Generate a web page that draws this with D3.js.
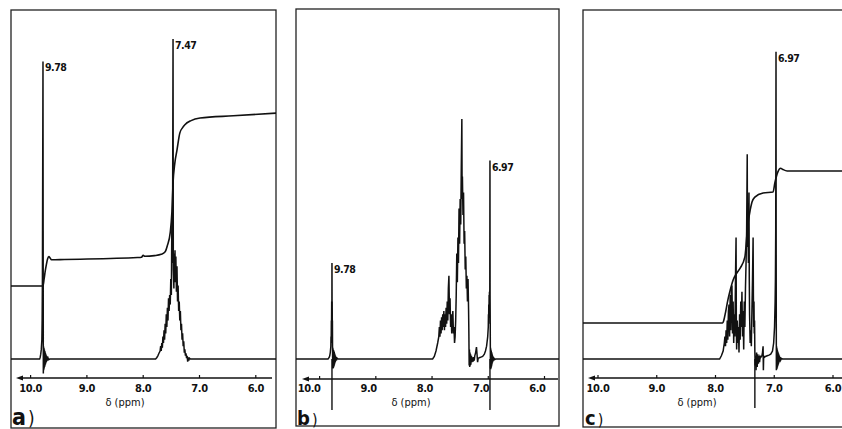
<!DOCTYPE html>
<html>
<head>
<meta charset="utf-8">
<script src="https://cdn.jsdelivr.net/npm/d3@7"></script>
<style>
  html, body { margin: 0; padding: 0; background: #fff; }
  svg { display: block; }
  text { font-family: "Liberation Sans Narrow", "DejaVu Sans Condensed", "Liberation Sans", sans-serif; fill: #111; }
</style>
</head>
<body>
<svg id="chart" width="842" height="429"></svg>
<script>
// axis ticks (ppm) and their labels
var ppmTicks = [10, 9, 8, 7, 6];
var tickLabels = ["10.0", "9.0", "8.0", "7.0", "6.0"];
var axisTitle = "δ (ppm)";

// spectrum a: [ppm, intensity]
var spectrumA = [
  [10.40,0],[9.84,0],[9.83,0.5],[9.82,1.5],[9.81,3],[9.80,6],[9.795,12],[9.79,25],[9.785,60],[9.78,93],
  [9.777,40],[9.774,-4.5],[9.771,4],[9.767,-3.5],[9.763,3.5],[9.759,-3],[9.755,3],[9.751,-2.5],[9.747,2.5],
  [9.743,-2],[9.739,2],[9.735,-1.6],[9.731,1.6],[9.727,-1.2],[9.723,1.2],[9.719,-0.9],[9.715,0.9],[9.71,-0.6],
  [9.705,0.6],[9.70,-0.4],[9.69,0.3],[9.68,-0.2],[9.66,0],
  [7.78,0],[7.76,0.4],[7.74,1],[7.72,1.8],[7.70,2.5],[7.69,4],[7.68,2.5],[7.67,5],[7.66,3.5],[7.65,7],[7.64,5],
  [7.63,9],[7.62,6],[7.61,11],[7.60,8],[7.59,14],[7.58,10],[7.57,16],[7.56,12],[7.55,19],[7.54,15],[7.53,20],
  [7.52,17],[7.51,25],[7.50,20],[7.49,45],[7.48,30],[7.47,100],[7.465,28],[7.455,22],[7.45,33],[7.44,26],
  [7.435,34],[7.43,24],[7.42,32],[7.41,21],[7.40,29],[7.39,18],[7.38,23],[7.37,15],[7.36,18],[7.35,12],
  [7.34,15],[7.33,9],[7.32,11],[7.31,6],[7.30,8],[7.29,4],[7.28,5.5],[7.27,2],[7.26,3],[7.25,1],[7.24,1.8],
  [7.23,0.3],[7.22,1],[7.21,-0.8],[7.20,0.5],[7.19,-0.5],[7.18,0.3],[7.16,0],[5.50,0]
];

// integral a: [ppm, level]
var integralA = [
  [10.40,22.8],[9.78,22.8],[9.76,25],[9.74,27.5],[9.72,29.5],[9.70,31.2],[9.675,32],[9.655,31.6],[9.63,31],
  [9.40,31.1],[8.10,31.7],[8.03,31.8],[8.00,32.4],[7.97,32.1],[7.80,32.3],[7.68,32.7],[7.61,33.5],[7.57,35.5],
  [7.52,39.5],[7.49,46],[7.47,55],[7.44,61],[7.40,65.3],[7.35,70.6],[7.30,72.3],[7.26,73.2],[7.15,74.5],
  [6.99,75.3],[6.40,76],[5.50,77]
];

// spectrum b
var spectrumB = [
  [10.50,0],[9.85,0],[9.83,0.5],[9.82,1],[9.81,2],[9.80,4],[9.797,7],[9.794,5],[9.791,12],[9.788,9],[9.785,18],
  [9.783,13],[9.781,19],[9.78,30],[9.778,16],[9.776,18],[9.774,10],[9.772,12],[9.77,4],[9.767,-3],[9.764,3.5],
  [9.761,-3],[9.758,3],[9.755,-2.8],[9.752,2.8],[9.749,-2.5],[9.746,2.5],[9.743,-2.2],[9.74,2.2],[9.737,-1.8],
  [9.734,1.8],[9.73,-1.4],[9.726,1.4],[9.722,-1],[9.718,1],[9.714,-0.7],[9.71,0.7],[9.70,-0.4],[9.69,0.3],[9.67,0],
  [7.99,0],[7.96,0.8],[7.93,2.5],[7.90,5],[7.88,7],[7.87,10],[7.86,7],[7.85,12],[7.84,8],[7.83,13],[7.82,9],
  [7.81,14],[7.80,10],[7.79,15],[7.78,9],[7.77,14],[7.76,10],[7.75,16],[7.74,11],[7.73,18],[7.72,12],[7.71,22],
  [7.70,26],[7.69,14],[7.68,19],[7.67,10],[7.66,14],[7.65,8],[7.64,12],[7.63,15],[7.62,8],[7.61,10],[7.60,5],
  [7.59,7],[7.58,12],[7.57,20],[7.56,33],[7.55,24],[7.54,38],[7.53,30],[7.52,47],[7.51,36],[7.50,50],[7.49,42],
  [7.48,60],[7.47,75],[7.465,50],[7.46,57],[7.45,45],[7.44,52],[7.43,36],[7.42,40],[7.41,28],[7.40,32],[7.39,22],
  [7.38,26],[7.37,18],[7.36,25],[7.35,15],[7.345,8],[7.34,-2],[7.335,3],[7.33,-2.5],[7.325,2],[7.32,-2],
  [7.315,1.5],[7.31,-1.8],[7.30,1],[7.29,-1],[7.28,0.5],[7.27,-0.8],[7.26,0.6],[7.25,-0.5],[7.24,1],[7.225,2],
  [7.21,3.7],[7.20,1.5],[7.19,-1],[7.18,0.2],[7.16,0.4],[7.13,0.6],[7.10,0.8],[7.07,1.5],[7.05,2.5],[7.03,4],
  [7.01,7],[7.00,10],[6.997,14],[6.994,11],[6.991,17],[6.988,13],[6.985,20],[6.982,15],[6.979,21],[6.976,17],
  [6.973,22],[6.97,62],[6.968,20],[6.966,14],[6.964,6],[6.962,-3],[6.959,3.5],[6.956,-3.2],[6.953,3],[6.95,-2.8],
  [6.947,2.6],[6.944,-2.4],[6.941,2.2],[6.938,-2],[6.935,1.8],[6.932,-1.5],[6.929,1.4],[6.925,-1.1],[6.921,1],
  [6.917,-0.8],[6.913,0.7],[6.908,-0.5],[6.90,0.4],[6.89,-0.2],[6.87,0],[5.50,0]
];

// spectrum c
var spectrumC = [
  [10.50,0],[7.93,0],[7.90,1],[7.87,2.5],[7.85,5],[7.84,7],[7.83,4],[7.82,9],[7.81,5],[7.80,12],[7.79,6],
  [7.78,15],[7.77,17],[7.76,7],[7.75,20],[7.74,9],[7.73,22],[7.72,23],[7.71,8],[7.70,18],[7.69,5],[7.68,14],
  [7.67,7],[7.66,25],[7.65,38],[7.645,10],[7.64,3],[7.63,12],[7.62,5],[7.61,10],[7.60,2],[7.59,14],[7.58,6],
  [7.57,18],[7.56,10],[7.55,21],[7.54,7],[7.53,15],[7.52,3],[7.51,18],[7.50,10],[7.49,22],[7.48,30],[7.47,40],
  [7.46,64],[7.455,35],[7.45,45],[7.44,30],[7.43,52],[7.425,25],[7.42,14],[7.41,5],[7.40,9],[7.39,4],[7.38,15],
  [7.37,25],[7.36,38],[7.355,20],[7.35,10],[7.345,18],[7.34,8],[7.335,12],[7.33,2],[7.325,-2],[7.32,1],
  [7.31,-3.5],[7.30,2],[7.29,-2.5],[7.28,1.5],[7.27,-1.5],[7.26,1],[7.25,-1],[7.24,0.8],[7.23,0.5],[7.21,1],
  [7.20,2],[7.19,4],[7.185,-3.5],[7.18,1],[7.17,0.5],[7.15,0.8],[7.12,1],[7.09,1.2],[7.06,1.5],[7.03,2.5],
  [7.01,5],[6.995,10],[6.985,18],[6.98,25],[6.975,40],[6.97,96],[6.967,30],[6.964,-3.5],[6.961,4],[6.958,-3.2],
  [6.955,3.5],[6.952,-3],[6.949,3],[6.946,-2.6],[6.943,2.6],[6.94,-2.2],[6.937,2.2],[6.933,-1.8],[6.929,1.8],
  [6.925,-1.4],[6.921,1.4],[6.917,-1],[6.912,1],[6.907,-0.7],[6.90,0.6],[6.89,-0.3],[6.88,0.2],[6.86,0],[5.50,0]
];

// integral c
var integralC = [
  [10.40,11.25],[7.88,11.25],[7.86,12],[7.83,14.5],[7.79,18.4],[7.75,21.5],[7.70,24.7],[7.64,26.8],[7.58,28.4],
  [7.50,31.9],[7.45,41.9],[7.41,46.5],[7.38,49],[7.33,50.6],[7.19,51.9],[7.02,52.2],[6.99,55],[6.94,58.4],
  [6.89,59.6],[6.86,59.3],[6.78,58.75],[5.50,58.75]
];

// labelled peaks and marker lines per panel
var peaksA = ["9.78", "7.47"];
var peaksB = ["9.78", "6.97"];
var peaksC = ["6.97"];
var markersB = [9.78, 6.97];
var markersC = [7.33];

var panels = [
  { name: "a", spec: spectrumA, integ: integralA, peaks: peaksA, markers: [],
    box: [11, 10, 276, 428], xr: [30.6, 255.8], base: 359, axisY: 378, axis: [16, 272],
    anchor: "middle", dx: 0, titleX: 125, nameX: 12, nameSize: 23, markBottom: 0 },
  { name: "b", spec: spectrumB, integ: null, peaks: peaksB, markers: markersB,
    box: [296, 9, 559, 426], xr: [319.6, 544.5], base: 359, axisY: 379, axis: [302, 558],
    anchor: "end", dx: 1, titleX: 411, nameX: 297, nameSize: 20, markBottom: 410 },
  { name: "c", spec: spectrumC, integ: integralC, peaks: peaksC, markers: markersC,
    box: [583, 10, 846, 427], xr: [598, 833], base: 359, axisY: 378, axis: [588, 842],
    anchor: "middle", dx: 0, titleX: 697, nameX: 585, nameSize: 20, markBottom: 408 }
];

var svg = d3.select("#chart");

panels.forEach(function (p, i) {
  var x = d3.scaleLinear().domain([10, 6]).range(p.xr);
  var y = d3.scaleLinear().domain([0, 100]).range([p.base, p.base - 320]);

  var g = svg.append("g").attr("class", "panel-" + p.name);

  svg.append("defs")
    .append("clipPath")
    .attr("id", "clip" + i)
    .append("rect")
    .attr("x", p.box[0])
    .attr("y", p.box[1])
    .attr("width", p.box[2] - p.box[0])
    .attr("height", p.box[3] - p.box[1]);

  // frame
  g.append("rect")
    .attr("x", p.box[0])
    .attr("y", p.box[1])
    .attr("width", p.box[2] - p.box[0])
    .attr("height", p.box[3] - p.box[1])
    .attr("fill", "none")
    .attr("stroke", "#222")
    .attr("stroke-width", 1.3);

  var line = d3.line()
    .x(function (d) { return x(d[0]); })
    .y(function (d) { return y(d[1]); });

  var plot = g.append("g").attr("clip-path", "url(#clip" + i + ")");

  plot.append("path")
    .datum(p.spec)
    .attr("d", line)
    .attr("fill", "none")
    .attr("stroke", "#111")
    .attr("stroke-width", 1.5)
    .attr("stroke-linejoin", "miter");

  if (p.integ) {
    plot.append("path")
      .datum(p.integ)
      .attr("d", line.curve(d3.curveMonotoneX))
      .attr("fill", "none")
      .attr("stroke", "#111")
      .attr("stroke-width", 1.6);
    line.curve(d3.curveLinear);
  }

  // marker lines below the baseline
  plot.selectAll(".marker")
    .data(p.markers)
    .enter()
    .append("line")
    .attr("class", "marker")
    .attr("x1", function (d) { return x(d); })
    .attr("x2", function (d) { return x(d); })
    .attr("y1", p.base)
    .attr("y2", p.markBottom)
    .attr("stroke", "#111")
    .attr("stroke-width", 1.4);

  // peak labels
  g.selectAll(".peak")
    .data(p.peaks)
    .enter()
    .append("text")
    .attr("class", "peak")
    .attr("x", function (d) { return x(+d) + 2; })
    .attr("y", function (d) {
      var pt = p.spec.find(function (s) { return s[0] === +d; });
      return y(pt[1]) + 10;
    })
    .attr("font-size", 10.5)
    .attr("font-weight", "bold")
    .attr("letter-spacing", -0.5)
    .text(function (d) { return d; });

  // axis with arrow pointing left
  var ax = g.append("g");
  ax.append("line")
    .attr("x1", p.axis[0] + 4)
    .attr("x2", p.axis[1])
    .attr("y1", p.axisY)
    .attr("y2", p.axisY)
    .attr("stroke", "#111")
    .attr("stroke-width", 1.4);
  ax.append("path")
    .attr("d", "M" + p.axis[0] + "," + p.axisY + "l7,-2.5v5z")
    .attr("fill", "#111");
  ax.selectAll(".tick")
    .data(ppmTicks)
    .enter()
    .append("line")
    .attr("class", "tick")
    .attr("x1", function (d) { return x(d); })
    .attr("x2", function (d) { return x(d); })
    .attr("y1", p.axisY)
    .attr("y2", p.axisY - 3)
    .attr("stroke", "#111")
    .attr("stroke-width", 1.2);
  ax.selectAll(".tlabel")
    .data(ppmTicks)
    .enter()
    .append("text")
    .attr("class", "tlabel")
    .attr("x", function (d) { return x(d) + p.dx; })
    .attr("y", 392)
    .attr("text-anchor", p.anchor)
    .attr("font-size", 11)
    .attr("font-weight", "bold")
    .attr("letter-spacing", -0.4)
    .text(function (d, j) { return tickLabels[j]; });

  g.append("text")
    .attr("x", p.titleX)
    .attr("y", 406)
    .attr("text-anchor", "middle")
    .attr("font-size", 11)
    .text(axisTitle);

  var nm = g.append("text")
    .attr("x", p.nameX)
    .attr("y", 425)
    .attr("font-size", p.nameSize);
  nm.append("tspan").attr("font-weight", "bold").text(p.name);
  nm.append("tspan").attr("font-size", p.nameSize - 4).attr("dx", 2).text(")");
});
</script>
</body>
</html>
